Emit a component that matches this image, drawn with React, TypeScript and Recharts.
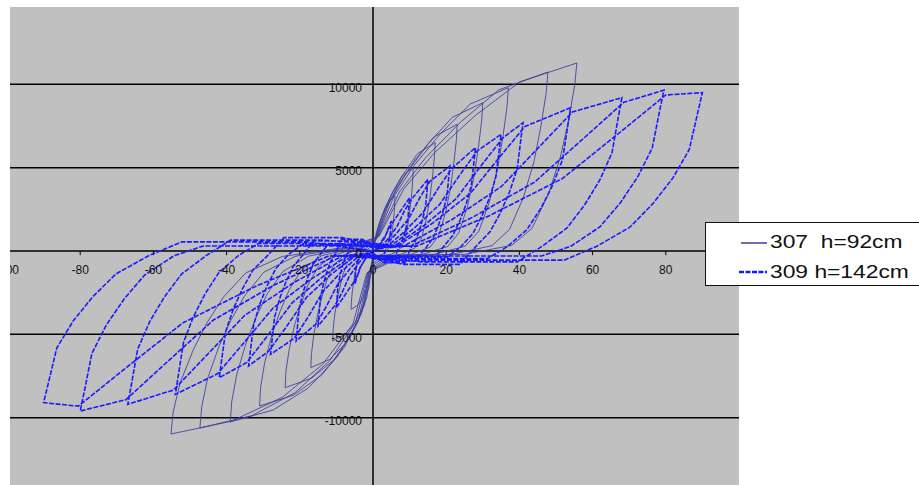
import {
  CartesianGrid,
  Line,
  LineChart,
  ReferenceDot,
  ReferenceLine,
  XAxis,
  YAxis,
} from "recharts";

type Pt = [number, number];

// wall 307 (h=92cm), one array per cycle: loading, peak, unloading, slip
const c307_1: Pt[] = [
  [0, 0], [0.2, 260], [0.9, 1090], [1.8, 1720], [3, 2380], [4.3, 2970], [6, 3300], [5.9, 2900], [5.8, 2310], [5.5, 1650], [5.2, 990], [4.7, 400], [4.1, 100], [2.7, -200], [0.9, -300],
  [-0.2, -420], [-0.6, -1400], [-1.5, -2170], [-2.7, -2800], [-4.2, -3260], [-6, -3500], [-5.9, -3080], [-5.7, -2520], [-5.3, -1890], [-4.9, -1370], [-4.4, -880], [-3.8, -420], [-2.7, -100], [-0.9, 200],
];
const c307_2: Pt[] = [
  [0.3, 400], [1.7, 1650], [3.3, 2600], [5.5, 3600], [7.9, 4500], [11, 5000], [10.9, 4400], [10.6, 3500], [10.1, 2500], [9.5, 1500], [8.6, 600], [7.5, 150], [5, -200], [1.7, -300],
  [-0.3, -650], [-1.1, -2160], [-2.8, -3350], [-5, -4320], [-7.7, -5020], [-11, -5400], [-10.9, -4750], [-10.5, -3890], [-9.8, -2920], [-9, -2110], [-8.1, -1350], [-6.9, -650], [-5, -160], [-1.7, 200],
];
const c307_3: Pt[] = [
  [0.5, 520], [2.6, 2150], [5.1, 3380], [8.5, 4680], [12.2, 5850], [17, 6500], [16.8, 5720], [16.3, 4550], [15.6, 3250], [14.6, 1950], [13.3, 780], [11.6, 200], [7.7, -200], [2.6, -300],
  [-0.5, -840], [-1.7, -2800], [-4.3, -4340], [-7.7, -5600], [-11.9, -6510], [-17, -7000], [-16.8, -6160], [-16.2, -5040], [-15.1, -3780], [-13.9, -2730], [-12.6, -1750], [-10.7, -840], [-7.7, -210], [-2.6, 200],
];
const c307_4: Pt[] = [
  [0.7, 610], [3.5, 2510], [6.9, 3950], [11.5, 5470], [16.6, 6840], [23, 7600], [22.8, 6690], [22.1, 5320], [21.2, 3800], [19.8, 2280], [17.9, 910], [15.6, 230], [10.4, -200], [3.5, -300],
  [-0.7, -980], [-2.4, -3280], [-6, -5080], [-10.8, -6560], [-16.8, -7630], [-24, -8200], [-23.8, -7220], [-22.9, -5900], [-21.4, -4430], [-19.7, -3200], [-17.8, -2050], [-15.1, -980], [-10.8, -250], [-3.6, 200],
];
const c307_5: Pt[] = [
  [0.9, 710], [4.5, 2940], [9, 4630], [15, 6410], [21.6, 8010], [30, 8900], [29.7, 7830], [28.8, 6230], [27.6, 4450], [25.8, 2670], [23.4, 1070], [20.4, 270], [13.5, -200], [4.5, -300],
  [-0.9, -1120], [-3.1, -3720], [-7.8, -5770], [-14, -7440], [-21.7, -8650], [-31, -9300], [-30.7, -8180], [-29.6, -6700], [-27.6, -5020], [-25.4, -3630], [-22.9, -2330], [-19.5, -1120], [-14, -280], [-4.7, 200],
];
const c307_6: Pt[] = [
  [1.1, 780], [5.6, 3230], [11.1, 5100], [18.5, 7060], [26.6, 8820], [37, 9800], [36.6, 8620], [35.5, 6860], [34, 4900], [31.8, 2940], [28.9, 1180], [25.2, 290], [16.7, -200], [5.6, -300],
  [-1.2, -1230], [-3.9, -4100], [-9.8, -6360], [-17.6, -8210], [-27.3, -9540], [-39, -10260], [-38.6, -9030], [-37.2, -7390], [-34.7, -5540], [-32, -4000], [-28.9, -2570], [-24.6, -1230], [-17.6, -310], [-5.9, 200],
];
const c307_7: Pt[] = [
  [1.4, 860], [7.2, 3540], [14.3, 5580], [23.9, 7730], [34.4, 9670], [47.8, 10740], [47.3, 9450], [45.9, 7520], [44, 5370], [41.1, 3220], [37.3, 1290], [32.5, 320], [21.5, -200], [7.2, -300],
  [-1.4, -1270], [-4.7, -4250], [-11.8, -6580], [-21.3, -8500], [-33.1, -9880], [-47.3, -10620], [-46.8, -9350], [-45.2, -7650], [-42.1, -5730], [-38.8, -4140], [-35, -2660], [-29.8, -1270], [-21.3, -320], [-7.1, 200],
];
const c307_8: Pt[] = [
  [1.7, 900], [8.4, 3720], [16.7, 5870], [27.9, 8120], [40.1, 10150], [55.7, 11280], [55.1, 9930], [53.5, 7900], [51.2, 5640], [47.9, 3380], [43.4, 1350], [37.9, 340], [25.1, -200], [8.4, -300],
  [-1.7, -1320], [-5.5, -4390], [-13.8, -6810], [-24.8, -8780], [-38.6, -10210], [-55.2, -10980], [-54.6, -9660], [-52.7, -7910], [-49.1, -5930], [-45.3, -4280], [-40.8, -2750], [-34.8, -1320], [-24.8, -330], [-8.3, 200], [0, 0],
];

// wall 309 (h=142cm)
const c309_1: Pt[] = [
  [0, 0], [0.5, 50], [2, 450], [3.5, 970], [5, 1800], [4.8, 1150], [4.25, 540], [3.4, 50], [2.9, -300], [1, -300],
  [-0.5, -50], [-2, -450], [-3.5, -970], [-5, -2000], [-4.8, -1280], [-4.25, -600], [-3.4, -60], [-2.9, 300], [-1, 300],
];
const c309_2: Pt[] = [
  [0.75, 50], [2, 400], [3.25, 810], [4.25, 1330], [5.5, 1750], [10, 3200], [9.85, 2780], [9.6, 2050], [9.1, 1470], [8.5, 960], [7.8, 480], [6.8, 100], [5.8, -500], [2, -500],
  [-0.75, -60], [-2, -440], [-3.25, -900], [-4.25, -1480], [-5.5, -1940], [-10, -3400], [-9.85, -2960], [-9.6, -2180], [-9.1, -1560], [-8.5, -1020], [-7.8, -510], [-6.8, -100], [-5.8, 500], [-2, 500],
];
const c309_3: Pt[] = [
  [1.5, 100], [4, 700], [6.5, 1440], [8.5, 2370], [10.5, 3100], [15, 4300], [14.8, 3740], [14.4, 2750], [13.65, 1980], [12.75, 1290], [11.7, 650], [10.2, 130], [8.7, -700], [3, -700],
  [-1.5, -100], [-4, -750], [-6.5, -1530], [-8.5, -2520], [-10.5, -3300], [-15, -4500], [-14.8, -3920], [-14.4, -2880], [-13.65, -2070], [-12.75, -1350], [-11.7, -680], [-10.2, -140], [-8.7, 700], [-3, 700],
];
const c309_4: Pt[] = [
  [2.25, 130], [6, 950], [9.75, 1940], [12.75, 3180], [15.5, 4170], [21, 5100], [20.7, 4440], [20.2, 3260], [19.1, 2350], [17.85, 1530], [16.4, 770], [14.3, 150], [12.2, -400], [4.2, -400],
  [-2.25, -140], [-6, -990], [-9.75, -2030], [-12.75, -3330], [-15.5, -4370], [-21, -5400], [-20.7, -4700], [-20.2, -3460], [-19.1, -2480], [-17.85, -1620], [-16.4, -810], [-14.3, -160], [-12.2, 400], [-4.2, 400],
];
const c309_5: Pt[] = [
  [3.15, 150], [8.4, 1120], [13.65, 2300], [17.85, 3770], [21.5, 4950], [28, 6200], [27.6, 5390], [26.9, 3970], [25.5, 2850], [23.8, 1860], [21.8, 930], [19, 190], [16.2, -600], [5.6, -600],
  [-3.15, -160], [-8.4, -1190], [-13.65, -2430], [-17.85, -4000], [-21.5, -5240], [-28, -6200], [-27.6, -5390], [-26.9, -3970], [-25.5, -2850], [-23.8, -1860], [-21.8, -930], [-19, -190], [-16.2, 600], [-5.6, 600],
];
const c309_6: Pt[] = [
  [4.2, 190], [11.2, 1360], [18.2, 2790], [23.8, 4590], [28.5, 6010], [35, 7000], [34.5, 6090], [33.6, 4480], [31.9, 3220], [29.75, 2100], [27.3, 1050], [23.8, 210], [20.3, -350], [7, -350],
  [-4.2, -190], [-11.2, -1360], [-18.2, -2790], [-23.8, -4590], [-28.5, -6010], [-34, -6900], [-33.5, -6000], [-32.6, -4420], [-30.9, -3170], [-28.9, -2070], [-26.5, -1040], [-23.1, -210], [-19.7, 350], [-6.8, 350],
];
const c309_7: Pt[] = [
  [5.25, 210], [14, 1540], [22.75, 3150], [29.75, 5180], [35.5, 6790], [41, 7700], [40.4, 6700], [39.4, 4930], [37.3, 3540], [34.85, 2310], [32, 1160], [27.9, 230], [23.8, -800], [8.2, -800],
  [-5.1, -210], [-13.6, -1520], [-22.1, -3110], [-28.9, -5110], [-34.5, -6690], [-42, -7600], [-41.4, -6610], [-40.3, -4860], [-38.2, -3500], [-35.7, -2280], [-32.8, -1140], [-28.6, -230], [-24.4, 800], [-8.4, 800],
];
const c309_8: Pt[] = [
  [6.15, 230], [16.4, 1690], [26.65, 3470], [34.85, 5700], [41.5, 7470], [54, 8600], [53.2, 7480], [51.8, 5500], [49.1, 3960], [45.9, 2580], [42.1, 1290], [36.7, 260], [31.3, -450], [10.8, -450],
  [-6.3, -230], [-16.8, -1670], [-27.3, -3420], [-35.7, -5620], [-42.5, -7370], [-54, -8600], [-53.2, -7480], [-51.8, -5500], [-49.1, -3960], [-45.9, -2580], [-42.1, -1290], [-36.7, -260], [-31.3, 450], [-10.8, 450],
];
const c309_9: Pt[] = [
  [8.1, 260], [21.6, 1890], [35.1, 3870], [45.9, 6360], [54.5, 8340], [68, 9200], [67, 8000], [65.3, 5890], [61.9, 4230], [57.8, 2760], [53, 1380], [46.2, 280], [39.4, -650], [13.6, -650],
  [-8.1, -260], [-21.6, -1890], [-35.1, -3870], [-45.9, -6360], [-54.5, -8340], [-67, -9200], [-66, -8000], [-64.3, -5890], [-61, -4230], [-57, -2760], [-52.3, -1380], [-45.6, -280], [-38.9, 650], [-13.4, 650],
];
const c309_10: Pt[] = [
  [10.2, 280], [27.2, 2020], [44.2, 4140], [57.8, 6810], [68.5, 8920], [79.5, 9650], [78.3, 8400], [76.3, 6180], [72.3, 4440], [67.6, 2900], [62, 1450], [54.1, 290], [46.1, -300], [15.9, -300],
  [-10.1, -280], [-26.8, -2020], [-43.6, -4140], [-57, -6810], [-67.5, -8920], [-80, -9600], [-78.8, -8350], [-76.8, -6140], [-72.8, -4420], [-68, -2880], [-62.4, -1440], [-54.4, -290], [-46.4, 300], [-16, 300],
];
const c309_11: Pt[] = [
  [11.9, 290], [31.8, 2120], [51.7, 4340], [67.6, 7140], [80, 9360], [90, 9500], [88.7, 8270], [86.4, 6080], [81.9, 4370], [76.5, 2850], [70.2, 1430], [61.2, 290], [52.2, -550], [18, -550],
  [-12, -290], [-32, -2110], [-52, -4320], [-68, -7100], [-80.5, -9310], [-90, -9100], [-88.7, -7920], [-86.4, -5820], [-81.9, -4190], [-76.5, -2730], [-70.2, -1370], [-61.2, -270], [-52.2, 550], [-18, 550], [0, 0],
];

const xTicks = [-100, -80, -60, -40, -20, 0, 20, 40, 60, 80];
const yTicks = [-10000, -5000, 0, 5000, 10000];

const toRows = (pts: Pt[]) => pts.map(([x, y]) => ({ x, y }));

const rows307 = toRows([...c307_1, ...c307_2, ...c307_3, ...c307_4, ...c307_5, ...c307_6, ...c307_7, ...c307_8]);
const rows309 = toRows([
  ...c309_1, ...c309_2, ...c309_3, ...c309_4, ...c309_5, ...c309_6,
  ...c309_7, ...c309_8, ...c309_9, ...c309_10, ...c309_11,
]);

const COLOR_307 = "#3c3ca0";
const COLOR_309 = "#1a1aff";
const FONT = "'Liberation Sans', Arial, sans-serif";

function LegendBox() {
  const text: React.CSSProperties = {
    position: "absolute",
    left: 64,
    fontSize: 19,
    lineHeight: "22px",
    whiteSpace: "pre",
    color: "#111",
    transform: "scaleX(1.2)",
    transformOrigin: "left center",
  };
  return (
    <div
      style={{
        position: "absolute",
        left: 695,
        top: 222,
        width: 240,
        height: 62,
        border: "1.5px solid #111",
        background: "#fff",
        fontFamily: FONT,
      }}
    >
      <svg style={{ position: "absolute", left: 35, top: 18 }} width={26} height={4}>
        <line x1={0} y1={2} x2={26} y2={2} stroke={COLOR_307} strokeWidth={1.5} />
      </svg>
      <div style={{ ...text, top: 8 }}>{"307  h=92cm"}</div>
      <svg style={{ position: "absolute", left: 33, top: 47 }} width={28} height={4}>
        <line x1={0} y1={2} x2={28} y2={2} stroke={COLOR_309} strokeWidth={2.5} strokeDasharray="5 1.5" />
      </svg>
      <div style={{ ...text, top: 38 }}>{"309 h=142cm"}</div>
    </div>
  );
}

export default function App() {
  return (
    <div
      style={{
        position: "absolute",
        left: 10,
        top: 0,
        width: 909,
        height: 485,
        overflow: "hidden",
        background: "#fff",
        fontFamily: FONT,
      }}
    >
      <div style={{ position: "absolute", left: -3, top: 0 }}>
        <LineChart width={912} height={485} margin={{ top: 7, right: 180, bottom: 0, left: 0 }}>
          <CartesianGrid fill="#c0c0c0" horizontal={false} vertical={false} />
          <XAxis type="number" dataKey="x" domain={[-100, 100]} allowDataOverflow hide />
          <YAxis type="number" dataKey="y" domain={[-14040, 14640]} allowDataOverflow hide />
          {yTicks.map((v) => (
            <ReferenceLine key={`g${v}`} y={v} stroke="#000" strokeWidth={1.5} />
          ))}
          <ReferenceLine x={0} stroke="#000" strokeWidth={1.5} />
          {xTicks.map((v) => (
            <ReferenceLine
              key={`t${v}`}
              segment={[
                { x: v, y: 0 },
                { x: v, y: -250 },
              ]}
              stroke="#000"
              strokeWidth={1}
            />
          ))}
          {xTicks.map((v) => (
            <ReferenceDot
              key={`lx${v}`}
              x={v}
              y={0}
              r={0}
              stroke="none"
              fill="none"
              label={{ value: String(v), position: "bottom", offset: 14, fontSize: 12, fill: "#111", fontFamily: FONT }}
            />
          ))}
          {yTicks.map((v) => (
            <ReferenceDot
              key={`ly${v}`}
              x={0}
              y={v}
              r={0}
              stroke="none"
              fill="none"
              label={{ value: String(v), position: "left", offset: 11, fontSize: 12, fill: "#111", fontFamily: FONT, dy: 3 }}
            />
          ))}
          <Line
            data={rows307}
            dataKey="y"
            type="linear"
            stroke={COLOR_307}
            strokeWidth={1}
            strokeOpacity={0.85}
            dot={false}
            isAnimationActive={false}
          />
          <Line
            data={rows309}
            dataKey="y"
            type="linear"
            stroke={COLOR_309}
            strokeWidth={1.6}
            strokeDasharray="5 1.5"
            dot={false}
            isAnimationActive={false}
          />
        </LineChart>
      </div>
      <LegendBox />
    </div>
  );
}
